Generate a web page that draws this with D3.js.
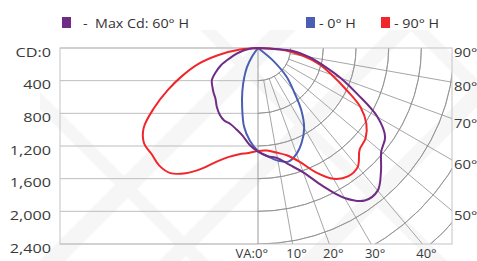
<!DOCTYPE html>
<html>
<head>
<meta charset="utf-8">
<script src="https://cdn.jsdelivr.net/npm/d3@7"></script>
<style>
body { margin: 0; background: #fff; }
text { font-family: "Open Sans", sans-serif; fill: #3a3a3a; font-size: 13px; }
</style>
</head>
<body>
<div id="chart"></div>
<script>
// vertical angle (deg, negative = left side) and candela per plane
var angles = [-90,-85,-80,-75,-70,-65,-60,-55,-50,-45,-40,-35,-30,-25,-20,-15,-10,-5,0,
              5,10,15,20,25,30,35,40,45,50,55,60,65,70,75,80,85,90];
var cd60 = [0,100,180,270,370,500,600,690,730,770,810,880,940,980,990,1030,1090,1190,1270,
            1330,1370,1480,1620,1860,2120,2280,2280,2130,1970,1900,1690,1350,1080,830,640,430,0];
var cd0  = [0,0,0,0,0,0,0,0,0,0,0,120,270,400,560,750,980,1140,1260,
            1330,1400,1440,1380,1270,1130,920,670,490,245,0,0,0,0,0,0,0,0];
var cd90 = [0,220,490,760,980,1220,1470,1710,1820,1840,1880,1870,1770,1630,1480,1380,1320,1290,1260,
            1260,1300,1360,1480,1680,1850,1920,1900,1760,1720,1620,1450,1180,960,780,560,330,0];

var cdTicks = [0,400,800,1200,1600,2000,2400];
var cdLabels = ["CD:0","400","800","1,200","1,600","2,000","2,400"];
var vaTicks = [0,10,20,30,40];
var haTicks = [90,80,70,60,50];
var rings = [400,800,1200,1600,2000,2400,2800,3200];
var spokes = [10,20,30,40,50,60,70,80];

var series = [
  {name: "- 0° H", values: cd0, color: "#4a5fb3"},
  {name: "- 90° H", values: cd90, color: "#f0262b"},
  {name: "-  Max Cd: 60° H", values: cd60, color: "#6f2c85"}
];

var w = 477, h = 261;
var pLeft = 60, pRight = 452, pTop = 48, pBottom = 244, ox = 258;

var svg = d3.select("#chart").append("svg")
    .attr("width", w)
    .attr("height", h);

var y = d3.scaleLinear().domain([0, 2400]).range([pTop, pBottom]);
var r = d3.scaleLinear().domain([0, 2400]).range([0, pBottom - pTop]);
var rad = function (deg) { return deg * Math.PI / 180; };

// faint watermark bands
svg.append("clipPath").attr("id", "wmClip")
  .append("rect").attr("x", 40).attr("y", 30).attr("width", 437).attr("height", 231);
var wm = svg.append("g").attr("clip-path", "url(#wmClip)")
  .attr("fill", "#000").attr("opacity", 0.03);
[[300, 26], [420, 22], [560, 24]].forEach(function (b) {
  var c = b[0], s = b[1];
  wm.append("polygon").attr("points",
    [[c - 300, 300], [c + 300, -300], [c + 300 + s, -300], [c - 300 + s, 300]].join(" "));
});
[[-70, 18], [170, 16], [380, 18]].forEach(function (b) {
  var c = b[0], s = b[1];
  wm.append("polygon").attr("points",
    [[c - 300, -300], [c + 300, 300], [c + 300 + s, 300], [c - 300 + s, -300]].join(" "));
});

// left rectangular grid
svg.append("g").selectAll("line")
  .data(cdTicks)
  .enter().append("line")
  .attr("x1", pLeft).attr("x2", ox)
  .attr("y1", function (d) { return y(d); })
  .attr("y2", function (d) { return y(d); })
  .attr("stroke", "#bdbdbd").attr("stroke-width", 1);

// polar grid on the right
svg.append("clipPath").attr("id", "polarClip")
  .append("rect").attr("x", ox).attr("y", pTop)
  .attr("width", pRight - ox).attr("height", pBottom - pTop);

var polar = svg.append("g")
  .attr("clip-path", "url(#polarClip)")
  .append("g")
  .attr("transform", "translate(" + ox + "," + pTop + ")");

var arc = d3.arc().startAngle(Math.PI / 2).endAngle(Math.PI);
polar.selectAll("path.ring")
  .data(rings)
  .enter().append("path")
  .attr("class", "ring")
  .attr("d", function (d) { return arc({innerRadius: r(d), outerRadius: r(d)}); })
  .attr("fill", "none").attr("stroke", "#8f8f8f").attr("stroke-width", 0.8);

polar.selectAll("line.spoke")
  .data(spokes)
  .enter().append("line")
  .attr("class", "spoke")
  .attr("x1", function (d) { return r(400) * Math.sin(rad(d)); })
  .attr("y1", function (d) { return r(400) * Math.cos(rad(d)); })
  .attr("x2", function (d) { return 600 * Math.sin(rad(d)); })
  .attr("y2", function (d) { return 600 * Math.cos(rad(d)); })
  .attr("stroke", "#8f8f8f").attr("stroke-width", 0.8);

// frame and centre line
svg.append("rect")
  .attr("x", pLeft).attr("y", pTop)
  .attr("width", pRight - pLeft).attr("height", pBottom - pTop)
  .attr("fill", "none").attr("stroke", "#c4c4c4").attr("stroke-width", 1);
svg.append("line")
  .attr("x1", ox).attr("x2", ox).attr("y1", pTop).attr("y2", pBottom)
  .attr("stroke", "#9a9a9a").attr("stroke-width", 1);

// candela curves
var line = d3.lineRadial()
  .angle(function (d) { return Math.PI - rad(d[0]); })
  .radius(function (d) { return r(d[1]); })
  .curve(d3.curveCatmullRom);

svg.append("g")
  .attr("transform", "translate(" + ox + "," + pTop + ")")
  .selectAll("path")
  .data(series)
  .enter().append("path")
  .attr("d", function (s) { return line(d3.zip(angles, s.values)); })
  .attr("fill", "none")
  .attr("stroke", function (s) { return s.color; })
  .attr("stroke-width", 2)
  .attr("stroke-linejoin", "round");

// left axis labels
svg.append("g").selectAll("text")
  .data(cdTicks)
  .enter().append("text")
  .attr("transform", function (d) { return "translate(51," + (y(d) + 8.5) + ") scale(1.2,1)"; })
  .attr("text-anchor", "end")
  .style("font-size", "13.5px")
  .text(function (d, i) { return cdLabels[i]; });

// right labels (horizontal angle)
svg.append("g").selectAll("text")
  .data(haTicks)
  .enter().append("text")
  .attr("transform", function (d) {
    var ty = (d === 90 ? pTop : pTop + (pRight - ox) / Math.tan(rad(d))) + 9;
    return "translate(" + (pRight + 2) + "," + ty + ") scale(1.1,1)";
  })
  .style("font-size", "13.5px")
  .text(function (d) { return d + "°"; });

// bottom labels (vertical angle)
svg.append("g").selectAll("text")
  .data(vaTicks)
  .enter().append("text")
  .attr("x", function (d) { return ox + (pBottom - pTop) * Math.tan(rad(d)) + (d === 0 ? 10 : 4); })
  .attr("y", 258)
  .attr("text-anchor", function (d) { return d === 0 ? "end" : "middle"; })
  .text(function (d) { return (d === 0 ? "VA:" : "") + d + "°"; });

// legend
var legend = [
  {x: 62, s: series[2]},
  {x: 306, s: series[0]},
  {x: 381, s: series[1]}
];
var lg = svg.append("g").selectAll("g")
  .data(legend)
  .enter().append("g")
  .attr("transform", function (d) { return "translate(" + d.x + ",17)"; });
lg.append("rect")
  .attr("width", 9).attr("height", 11)
  .attr("fill", function (d) { return d.s.color; });
lg.append("text")
  .attr("transform", function (d) { return "translate(" + (d.x === 62 ? 21 : 13) + ",10.5) scale(1.1,1)"; })
  .style("fill", "#333")
  .style("white-space", "pre")
  .text(function (d) { return d.s.name; });
</script>
</body>
</html>
